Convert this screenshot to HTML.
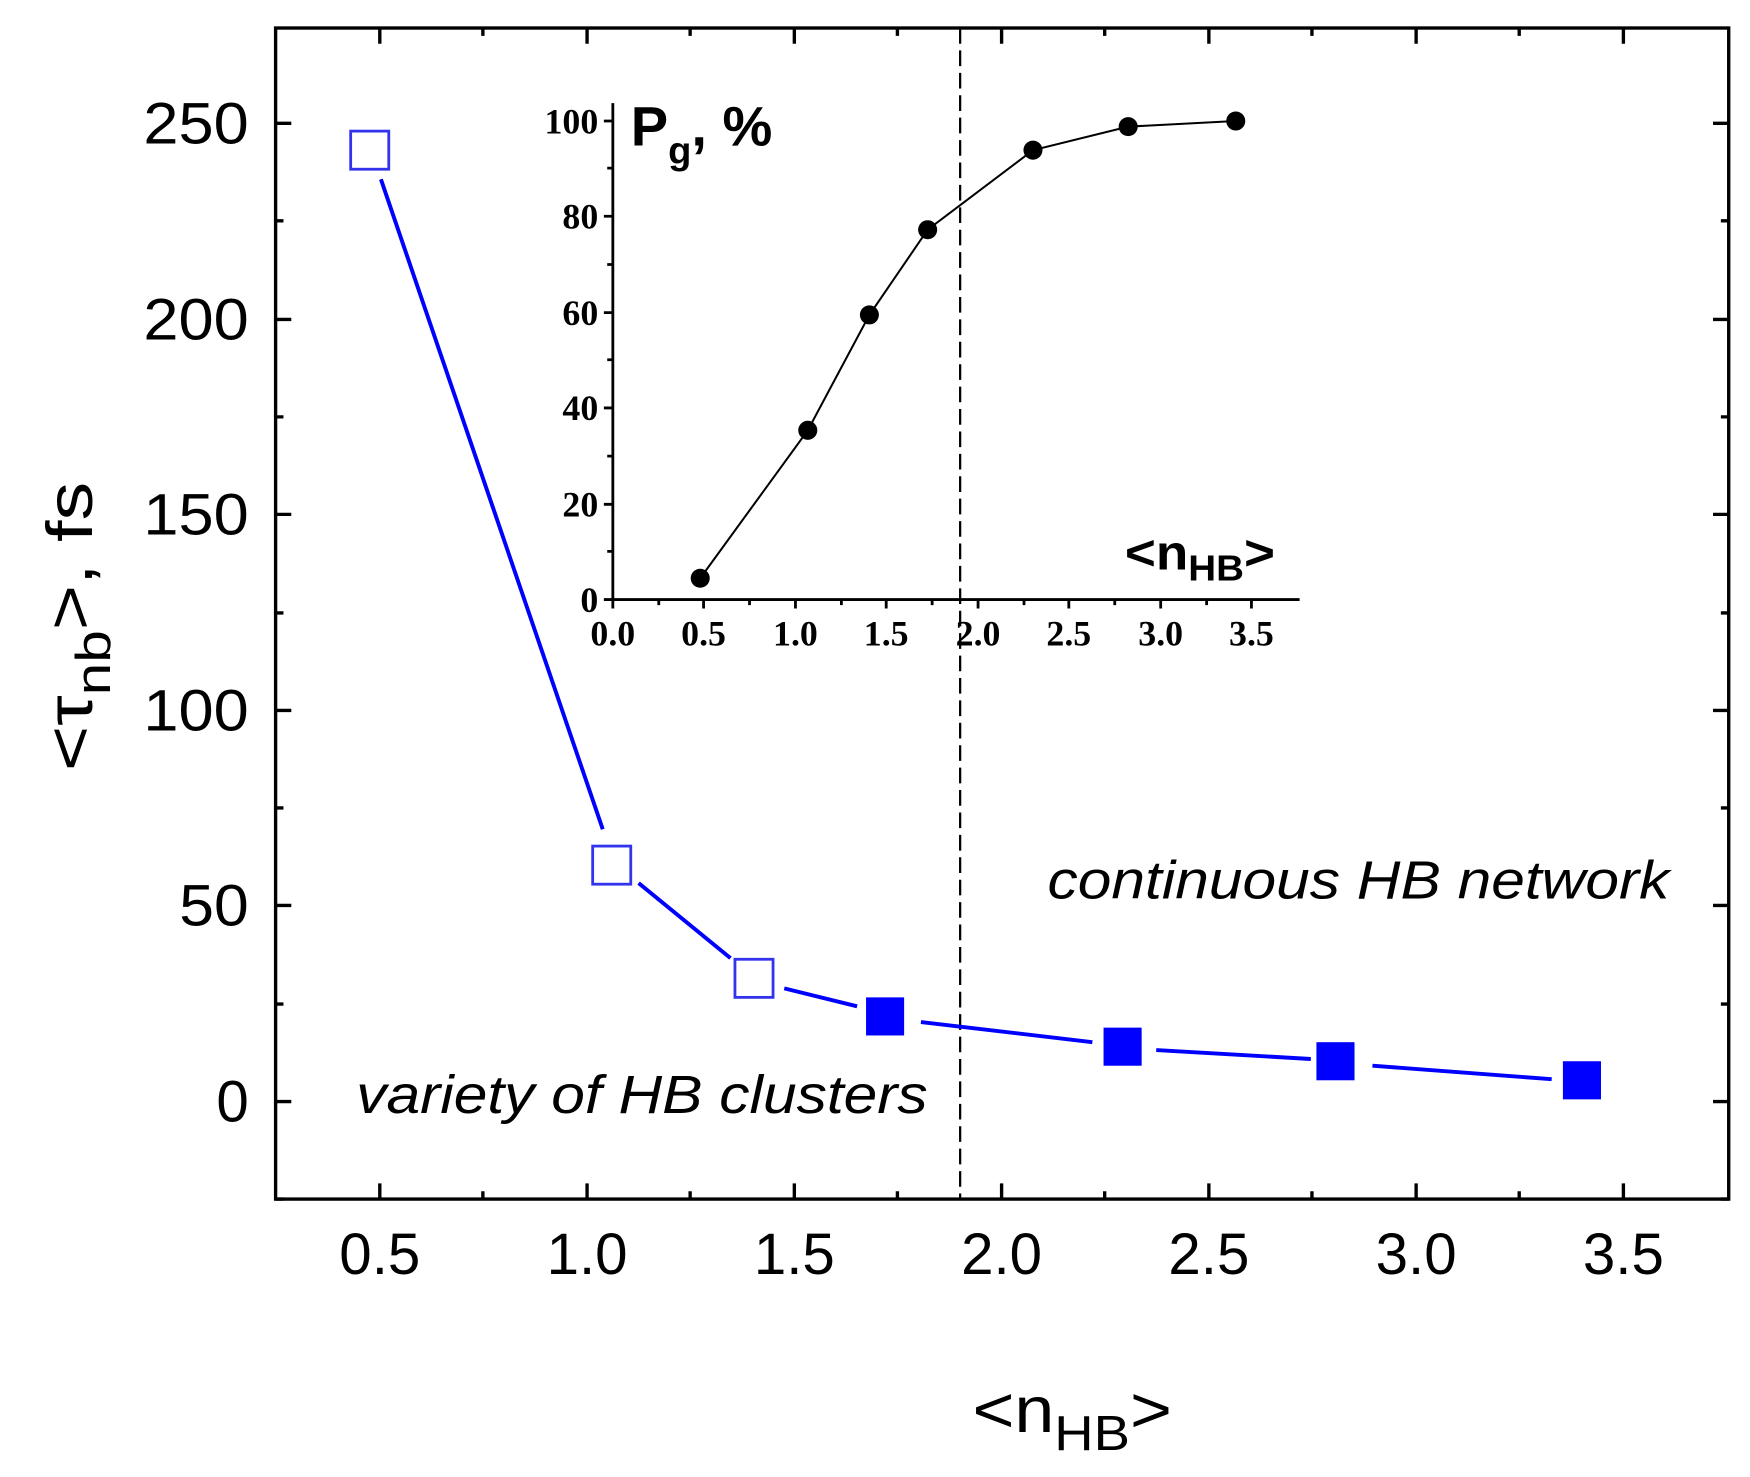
<!DOCTYPE html>
<html><head><meta charset="utf-8"><style>html,body{margin:0;padding:0;background:#fff}svg{display:block}</style></head><body>
<svg width="1750" height="1477" viewBox="0 0 1562 1318" preserveAspectRatio="none" xmlns="http://www.w3.org/2000/svg" font-family="Liberation Sans, sans-serif">
<rect width="1562" height="1318" fill="#fff"/>
<rect x="246" y="25" width="1297" height="1045" fill="none" stroke="#000" stroke-width="3"/>
<g stroke="#000" stroke-width="3" fill="none">
<path d="M246 983h14M246 808h14M246 634h14M246 459h14M246 285h14M246 110h14M1543 983h-14M1543 808h-14M1543 634h-14M1543 459h-14M1543 285h-14M1543 110h-14"/>
<path d="M246 1070h7M246 896h7M246 721h7M246 547h7M246 372h7M246 197h7M1543 1070h-7M1543 896h-7M1543 721h-7M1543 547h-7M1543 372h-7M1543 197h-7"/>
<path d="M339 1070v-14M524 1070v-14M709 1070v-14M894 1070v-14M1079 1070v-14M1264 1070v-14M1449 1070v-14M339 25v14M524 25v14M709 25v14M894 25v14M1079 25v14M1264 25v14M1449 25v14"/>
<path d="M431 1070v-7M616 1070v-7M801 1070v-7M986 1070v-7M1171 1070v-7M1356 1070v-7M431 25v7M616 25v7M801 25v7M986 25v7M1171 25v7M1356 25v7"/>
</g>
<g font-size="52" text-anchor="end" fill="#000">
<text x="222" y="1001">0</text><text x="222" y="826" textLength="62" lengthAdjust="spacingAndGlyphs">50</text><text x="222" y="652" textLength="94" lengthAdjust="spacingAndGlyphs">100</text><text x="222" y="477" textLength="94" lengthAdjust="spacingAndGlyphs">150</text><text x="222" y="303" textLength="94" lengthAdjust="spacingAndGlyphs">200</text><text x="222" y="128" textLength="94" lengthAdjust="spacingAndGlyphs">250</text>
</g>
<g font-size="52" text-anchor="middle">
<text x="339" y="1137">0.5</text><text x="524" y="1137">1.0</text><text x="709" y="1137">1.5</text><text x="894" y="1137">2.0</text><text x="1079" y="1137">2.5</text><text x="1264" y="1137">3.0</text><text x="1449" y="1137">3.5</text>
</g>
<text x="868" y="1278" font-size="58" textLength="178" lengthAdjust="spacingAndGlyphs">&lt;n<tspan font-size="44" dy="16">HB</tspan><tspan dy="-16">&gt;</tspan></text>
<text transform="translate(82,688) rotate(-90)" font-size="58" textLength="258" lengthAdjust="spacingAndGlyphs">&lt;τ<tspan font-size="44" dy="16">nb</tspan><tspan dy="-16">&gt;, fs</tspan></text>
<path d="M857 25V1070" stroke="#000" stroke-width="2" stroke-dasharray="14,6" fill="none"/>
<g stroke="#0000ff" stroke-width="3.5" fill="none">
<path d="M340 160L538 740M570 788L652 855M700 882L765 898M822 912L975 930M1032 937L1170 945M1225 951L1385 963"/>
</g>
<g fill="none" stroke="#3333ee" stroke-width="2.5">
<rect x="313" y="117" width="34" height="34"/><rect x="529" y="755" width="34" height="34"/><rect x="656" y="856" width="34" height="34"/>
</g>
<g fill="#0000ff">
<rect x="773" y="890" width="34" height="34"/><rect x="985" y="917" width="34" height="34"/><rect x="1175" y="930" width="34" height="34"/><rect x="1395" y="947" width="34" height="34"/>
</g>
<text x="935" y="802" font-size="48" font-style="italic" textLength="555" lengthAdjust="spacingAndGlyphs">continuous HB network</text>
<text x="318" y="993" font-size="48" font-style="italic" textLength="510" lengthAdjust="spacingAndGlyphs">variety of HB clusters</text>
<g stroke="#000" stroke-width="2.5" fill="none">
<path d="M547 92V535H1160"/>
<path d="M547 535h-8M547 450h-8M547 364h-8M547 279h-8M547 193h-8M547 108h-8M547 492h-5M547 407h-5M547 321h-5M547 236h-5M547 150h-5"/>
<path d="M547 535v8M628 535v8M710 535v8M791 535v8M873 535v8M954 535v8M1036 535v8M1117 535v8M588 535v5M669 535v5M751 535v5M832 535v5M914 535v5M995 535v5M1077 535v5"/>
</g>
<g font-family="Liberation Serif, serif" font-weight="bold" font-size="32" text-anchor="end">
<text x="534" y="546">0</text><text x="534" y="461">20</text><text x="534" y="375">40</text><text x="534" y="290">60</text><text x="534" y="204">80</text><text x="534" y="119">100</text>
</g>
<g font-family="Liberation Serif, serif" font-weight="bold" font-size="32" text-anchor="middle">
<text x="547" y="576">0.0</text><text x="628" y="576">0.5</text><text x="710" y="576">1.0</text><text x="791" y="576">1.5</text><text x="873" y="576">2.0</text><text x="954" y="576">2.5</text><text x="1036" y="576">3.0</text><text x="1117" y="576">3.5</text>
</g>
<polyline points="625,516 721,384 776,281 828,205 922,134 1007,113 1103,108" fill="none" stroke="#000" stroke-width="1.8"/>
<g fill="#000">
<circle cx="625" cy="516" r="8.5"/><circle cx="721" cy="384" r="8.5"/><circle cx="776" cy="281" r="8.5"/><circle cx="828" cy="205" r="8.5"/><circle cx="922" cy="134" r="8.5"/><circle cx="1007" cy="113" r="8.5"/><circle cx="1103" cy="108" r="8.5"/>
</g>
<text x="563" y="130" font-size="50" font-weight="bold">P<tspan font-size="34" dy="16">g</tspan><tspan dy="-16">, %</tspan></text>
<text x="1004" y="508" font-size="44" font-weight="bold" textLength="134" lengthAdjust="spacingAndGlyphs">&lt;n<tspan font-size="32" dy="10">HB</tspan><tspan dy="-10">&gt;</tspan></text>
</svg>
</body></html>
